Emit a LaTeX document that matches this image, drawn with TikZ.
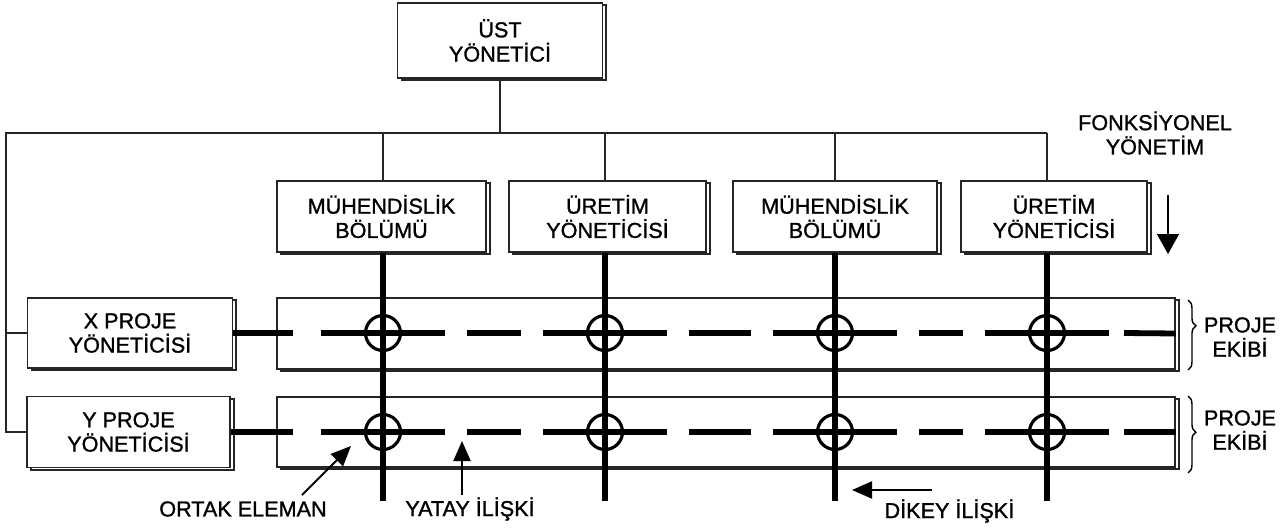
\documentclass[tikz,border=0pt]{standalone}
\usepackage{fontspec}
\setmainfont{Liberation Sans}[BoldFont={Liberation Sans}, BoldFeatures={FakeBold=1.2}]
\usetikzlibrary{shadows,arrows.meta,decorations.pathreplacing}

\begin{document}
\begin{tikzpicture}[x=0.02cm,y=-0.02cm]
   \useasboundingbox (0,0) rectangle (1286,531);
   \fontsize{12.3}{13.8}\selectfont\bfseries
   \tikzstyle{box}=[draw=black!85, fill=white, line width=1pt, align=center, inner sep=0pt, copy shadow={shadow xshift=2.2pt, shadow yshift=-1.3pt}]
   \tikzstyle{wire}=[draw=black!85, line width=1pt]
   \tikzstyle{heavy}=[draw=black, line width=3.3pt]
   \tikzstyle{ring}=[circle, draw=black, line width=1.8pt, minimum size=0.7cm, inner sep=0pt]
   \tikzstyle{pointer}=[draw=black, line width=1.2pt, -{Triangle[length=0.4cm,width=0.34cm]}]
   \tikzstyle{team}=[decorate, decoration={brace, amplitude=4.5pt}, line width=0.8pt]
   % project team bands
   \node[box, minimum width=17.96cm, minimum height=1.42cm] (bx) at (726,333.5) {};
   \node[box, minimum width=17.96cm, minimum height=1.4cm] (by) at (726,432) {};
   % managers
   \node[box, minimum width=4.1cm, minimum height=1.5cm] (ust) at (500,40.5) {ÜST\\YÖNETİCİ};
   \node[box, minimum width=4.1cm, minimum height=1.4cm] (mx) at (130,333) {X PROJE\\YÖNETİCİSİ};
   \node[box, minimum width=4.06cm, minimum height=1.42cm] (my) at (128.5,432) {Y PROJE\\YÖNETİCİSİ};
   \coordinate (bus) at (500,133);
   \coordinate (corner) at (6,133);
   \foreach \i/\x/\cx/\w/\word in {1/383/381.5/4.18/{MÜHENDİSLİK\\BÖLÜMÜ},2/605/607.5/3.94/{ÜRETİM\\YÖNETİCİSİ},3/835/835/4.08/{MÜHENDİSLİK\\BÖLÜMÜ},4/1047/1054/3.72/{ÜRETİM\\YÖNETİCİSİ}} {
       \node[box, minimum width=\w cm, minimum height=1.42cm] (d\i) at (\cx,216.5) {\word};
       \coordinate (c\i) at (\x,133);
       \coordinate (e\i) at (\x,501);
       \draw[wire] (c\i) -- (c\i |- d\i.north);
       \draw[heavy] (c\i |- d\i.south) -- (e\i);
   }
   \draw[wire] (ust) -- (bus);
   \draw[wire] (c4) -- (corner) -- (corner |- my.west) -- (my.west);
   \draw[wire] (corner |- mx.west) -- (mx.west);
   % dashed project lines
   \foreach \r/\y in {x/333,y/432} {
       \draw[heavy] (m\r.east) -- (293,\y);
       \foreach \x in {383,605,835,1047} \draw[heavy] (\x-62,\y) -- (\x+62,\y);
       \foreach \a/\b in {467/521,689/751,919/963} \draw[heavy] (\a,\y) -- (\b,\y);
       \draw[heavy] (1124,\y) -- (b\r.east);
       \foreach \i/\x in {1/383,2/605,3/835,4/1047} \node[ring] (o\r\i) at (\x,\y) {};
   }
   % project team braces
   \draw[team, decoration={aspect=0.37}] (1188,300) -- (1188,370);
   \draw[team, decoration={aspect=0.47}] (1188,396) -- (1188,473);
   \node[align=center] (px) at (1240,337) {PROJE\\EKİBİ};
   \node[align=center] (py) at (1240,430) {PROJE\\EKİBİ};
   % labels
   \node[align=center] (fonk) at (1155,133) {FONKSİYONEL\\YÖNETİM};
   \coordinate (f1) at (1168,195);
   \coordinate (f2) at (1168,254);
   \draw[pointer, line width=0.9pt, -{Triangle[length=0.4cm,width=0.44cm]}] (f1) -- (f2);
   \node (ortak) at (243,509) {ORTAK ELEMAN};
   \coordinate (o1) at (302,495);
   \coordinate (o2) at (351,446);
   \draw[pointer] (o1) -- (o2);
   \node (yatay) at (470,509) {YATAY İLİŞKİ};
   \coordinate (y1) at (462,495);
   \coordinate (y2) at (462,441);
   \draw[pointer] (y1) -- (y2);
   \node[anchor=west] (dikey) at (877,511) {DİKEY İLİŞKİ};
   \coordinate (k1) at (932,490);
   \coordinate (k2) at (852,490);
   \draw[pointer] (k1) -- (k2);
\end{tikzpicture}
\end{document}
